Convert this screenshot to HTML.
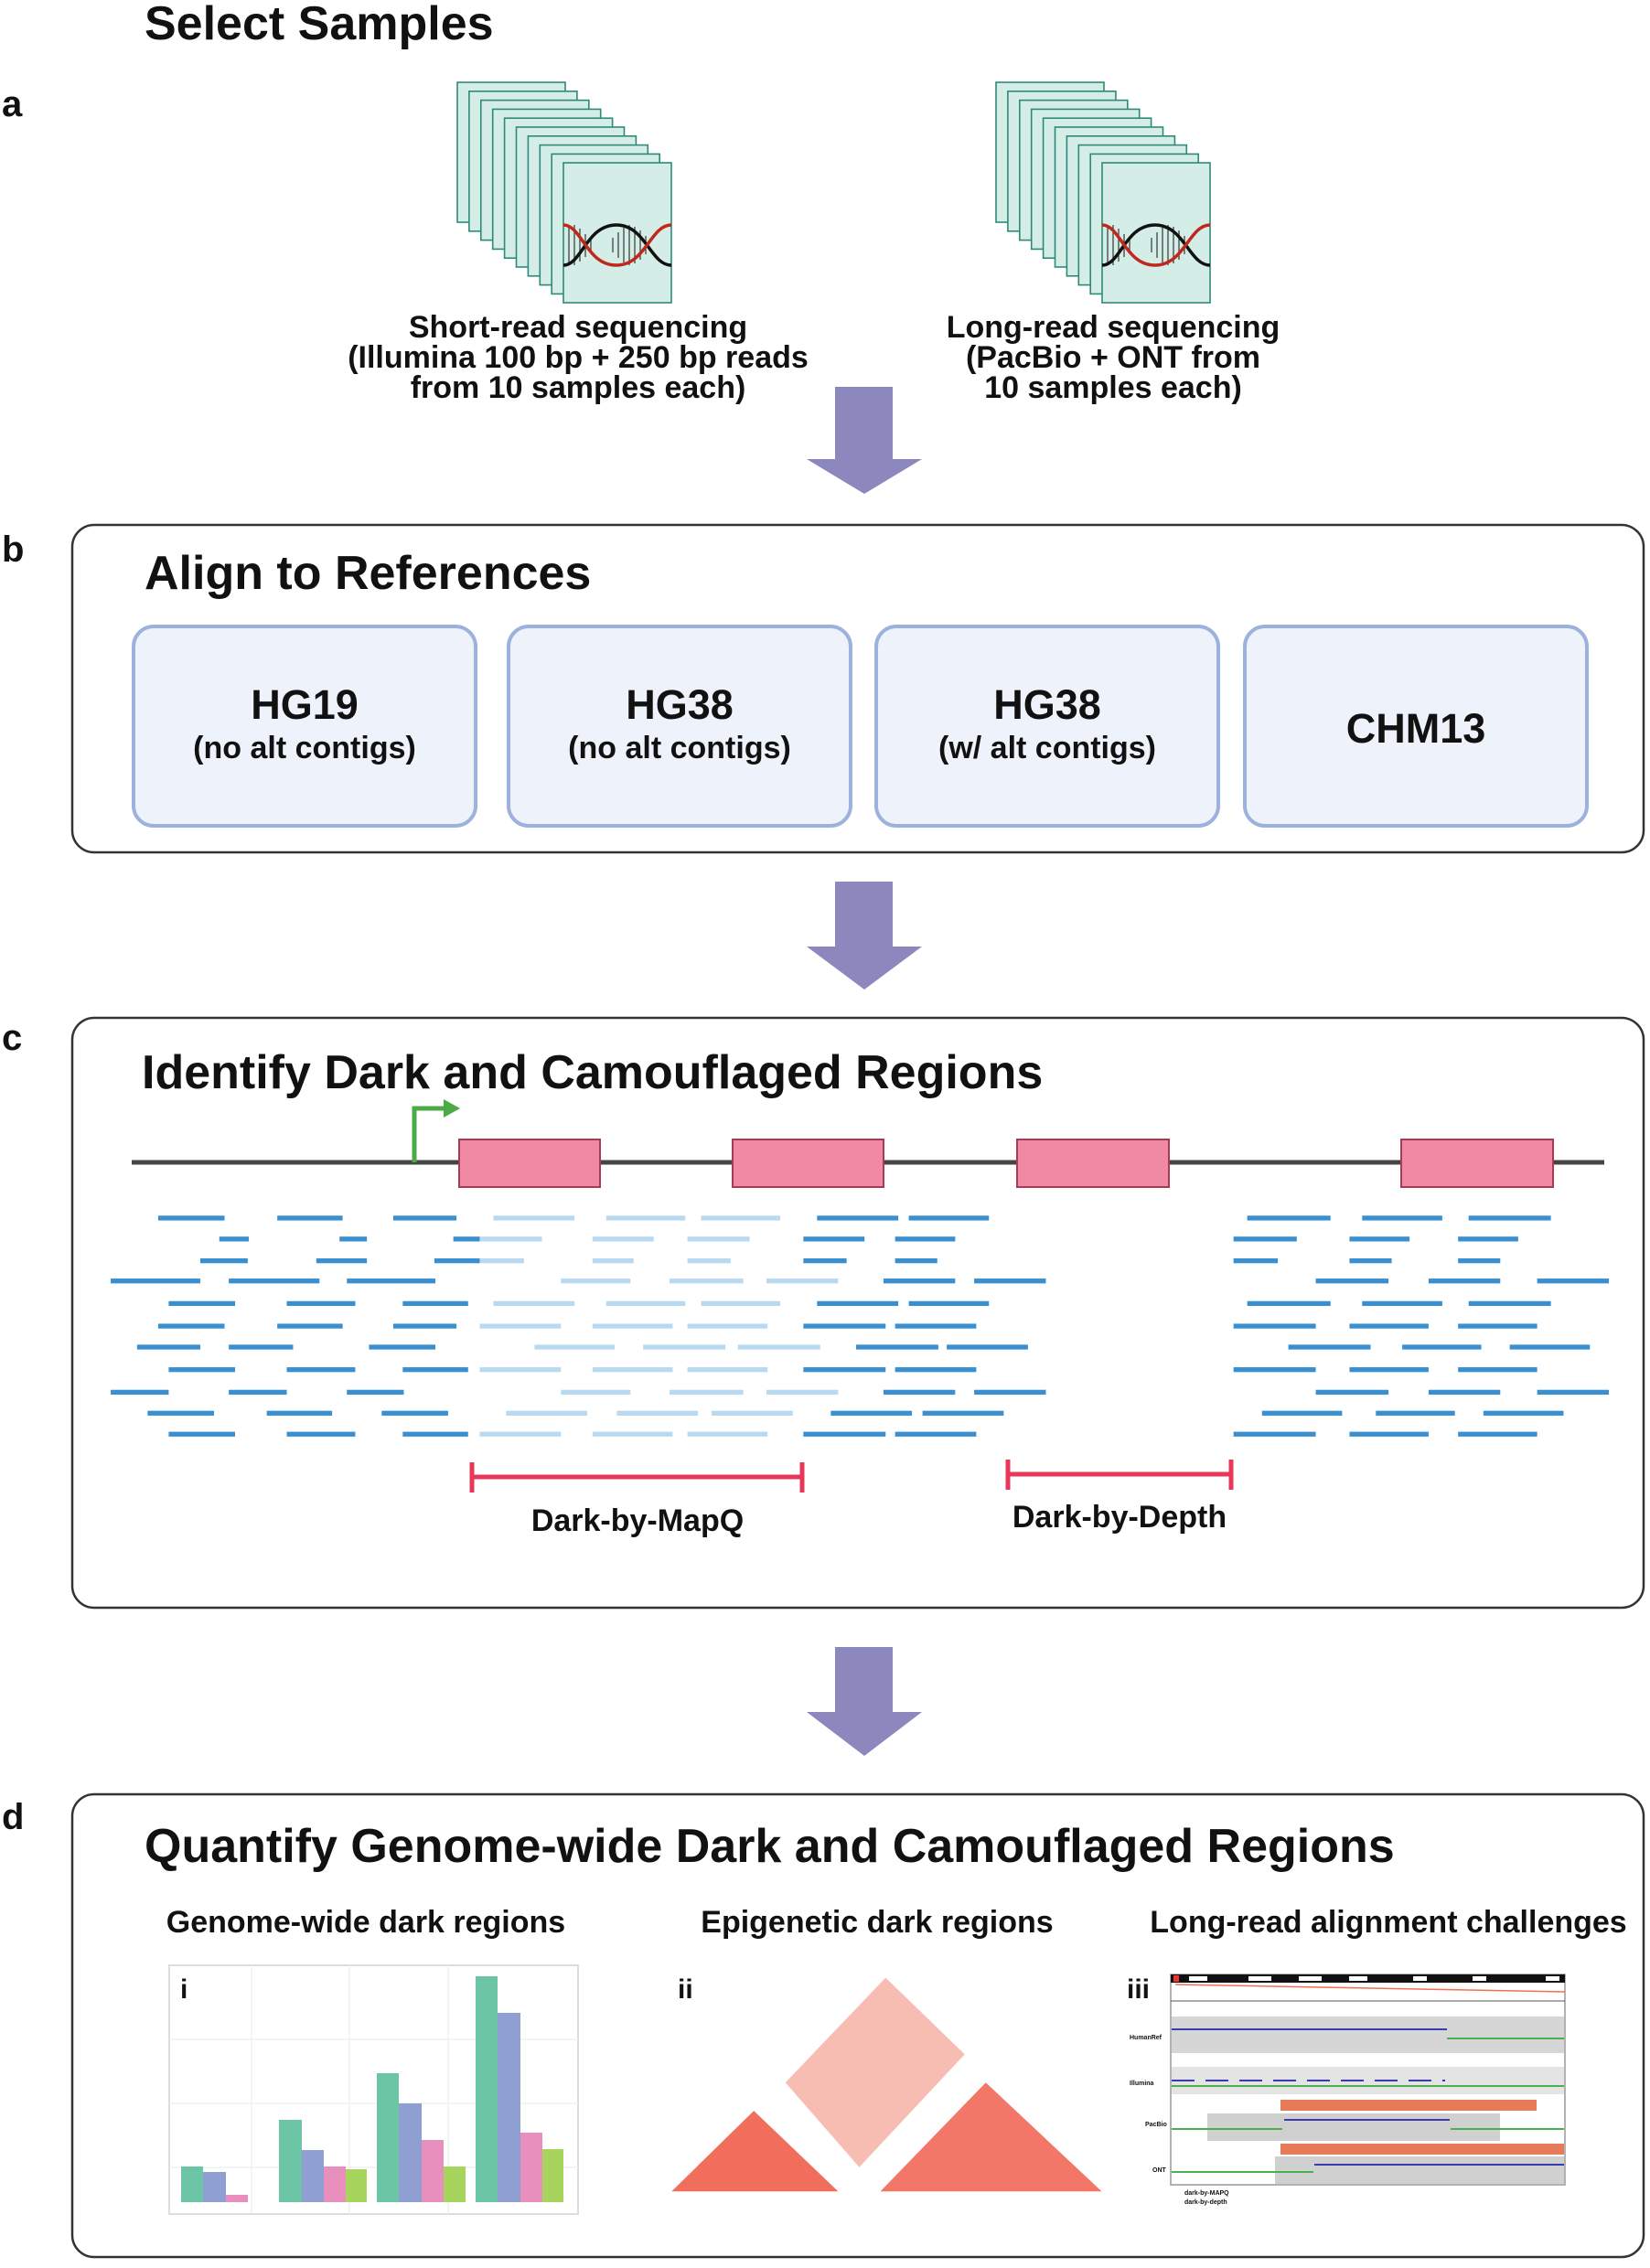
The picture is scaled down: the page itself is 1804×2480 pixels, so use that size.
<!DOCTYPE html>
<html><head><meta charset="utf-8"><style>
html,body{margin:0;padding:0;background:#fff}
svg{display:block}
text{font-family:"Liberation Sans",Arial,sans-serif;font-weight:bold;fill:#111}
.d{fill:#3a8fd0}.l{fill:#b9d9f1}
.card{fill:#d5ede7;stroke:#2e8a78;stroke-width:1.6}
</style></head><body>
<svg width="1804" height="2480" viewBox="0 0 1804 2480" xmlns="http://www.w3.org/2000/svg">
<defs>
<g id="stack">
<rect class="card" x="0" y="0" width="118" height="153"/>
<rect class="card" x="12.9" y="9.8" width="118" height="153"/>
<rect class="card" x="25.8" y="19.6" width="118" height="153"/>
<rect class="card" x="38.7" y="29.4" width="118" height="153"/>
<rect class="card" x="51.6" y="39.2" width="118" height="153"/>
<rect class="card" x="64.5" y="49" width="118" height="153"/>
<rect class="card" x="77.4" y="58.8" width="118" height="153"/>
<rect class="card" x="90.3" y="68.6" width="118" height="153"/>
<rect class="card" x="103.2" y="78.4" width="118" height="153"/>
<rect class="card" x="116" y="88" width="118" height="153"/>
<g transform="translate(116,88)">
<g stroke="#333" stroke-width="1.2">
<line x1="6" y1="70" x2="6" y2="110"/><line x1="12" y1="68" x2="12" y2="112"/><line x1="18" y1="72" x2="18" y2="108"/><line x1="24" y1="78" x2="24" y2="103"/><line x1="30" y1="84" x2="30" y2="96"/>
<line x1="54" y1="82" x2="54" y2="98"/><line x1="60" y1="76" x2="60" y2="104"/><line x1="66" y1="71" x2="66" y2="109"/><line x1="72" y1="68" x2="72" y2="112"/><line x1="78" y1="70" x2="78" y2="110"/><line x1="84" y1="74" x2="84" y2="106"/><line x1="90" y1="80" x2="90" y2="100"/>
</g>
<path d="M0,112 C20,112 25,68 58,68 C90,68 95,112 118,112" fill="none" stroke="#111" stroke-width="3.5"/>
<path d="M0,68 C20,68 25,112 58,112 C90,112 95,68 118,68" fill="none" stroke="#c0271d" stroke-width="3.5"/>
</g>
</g>
</defs>

<!-- Section a -->
<text x="158" y="43" font-size="52">Select Samples</text>
<text x="2" y="127" font-size="40">a</text>
<use href="#stack" x="500" y="90"/>
<use href="#stack" x="1089" y="90"/>
<g font-size="34" text-anchor="middle">
<text x="632" y="369">Short-read sequencing</text>
<text x="632" y="402">(Illumina 100 bp + 250 bp reads</text>
<text x="632" y="435">from 10 samples each)</text>
<text x="1217" y="369">Long-read sequencing</text>
<text x="1217" y="402">(PacBio + ONT from</text>
<text x="1217" y="435">10 samples each)</text>
</g>
<g fill="#8c87bd">
<polygon points="913,423 976,423 976,502 1008,502 945,540 882,502 913,502"/>
<polygon points="913,964 976,964 976,1035 1008,1035 945,1082 882,1035 913,1035"/>
<polygon points="913,1801 976,1801 976,1872 1008,1872 945,1920 882,1872 913,1872"/>
</g>

<!-- Section b -->
<text x="2" y="614" font-size="40">b</text>
<rect x="79" y="574" width="1718" height="358" rx="24" fill="#fff" stroke="#333" stroke-width="2.5"/>
<text x="158" y="644" font-size="52">Align to References</text>
<g fill="#eef3fb" stroke="#9db1dd" stroke-width="4">
<rect x="146" y="685" width="374" height="218" rx="22"/>
<rect x="556" y="685" width="374" height="218" rx="22"/>
<rect x="958" y="685" width="374" height="218" rx="22"/>
<rect x="1361" y="685" width="374" height="218" rx="22"/>
</g>
<g text-anchor="middle">
<text x="333" y="786" font-size="45">HG19</text>
<text x="333" y="829" font-size="34">(no alt contigs)</text>
<text x="743" y="786" font-size="45">HG38</text>
<text x="743" y="829" font-size="34">(no alt contigs)</text>
<text x="1145" y="786" font-size="45">HG38</text>
<text x="1145" y="829" font-size="34">(w/ alt contigs)</text>
<text x="1548" y="812" font-size="45">CHM13</text>
</g>

<!-- Section c -->
<text x="2" y="1148" font-size="40">c</text>
<rect x="79" y="1113" width="1718" height="645" rx="24" fill="#fff" stroke="#333" stroke-width="2.5"/>
<text x="155" y="1190" font-size="52">Identify Dark and Camouflaged Regions</text>
<line x1="144" y1="1271" x2="1754" y2="1271" stroke="#444" stroke-width="5"/>
<polyline points="453,1271 453,1212 488,1212" fill="none" stroke="#4caa45" stroke-width="5"/>
<polygon points="485,1202 503,1212 485,1222" fill="#4caa45"/>
<g fill="#f08aa3" stroke="#a83a55" stroke-width="2">
<rect x="502" y="1246" width="154" height="52"/>
<rect x="801" y="1246" width="165" height="52"/>
<rect x="1112" y="1246" width="166" height="52"/>
<rect x="1532" y="1246" width="166" height="52"/>
</g>
<g transform="matrix(1.1527,0,0,0.8818,0,1100)">
<g transform="translate(0,263)"><rect class="d" x="150" y="-3" width="63" height="6"/><rect class="d" x="263" y="-3" width="62" height="6"/><rect class="d" x="373" y="-3" width="60" height="6"/><rect class="l" x="468" y="-3" width="77" height="6"/><rect class="l" x="575" y="-3" width="75" height="6"/><rect class="l" x="665" y="-3" width="75" height="6"/><rect class="d" x="775" y="-3" width="77" height="6"/><rect class="d" x="862" y="-3" width="76" height="6"/><rect class="d" x="1183" y="-3" width="79" height="6"/><rect class="d" x="1292" y="-3" width="76" height="6"/><rect class="d" x="1393" y="-3" width="78" height="6"/></g>
<g transform="translate(0,289)"><rect class="d" x="208" y="-3" width="28" height="6"/><rect class="d" x="322" y="-3" width="26" height="6"/><rect class="d" x="430" y="-3" width="25" height="6"/><rect class="l" x="455" y="-3" width="59" height="6"/><rect class="l" x="562" y="-3" width="58" height="6"/><rect class="l" x="652" y="-3" width="59" height="6"/><rect class="d" x="762" y="-3" width="58" height="6"/><rect class="d" x="849" y="-3" width="57" height="6"/><rect class="d" x="1170" y="-3" width="60" height="6"/><rect class="d" x="1280" y="-3" width="57" height="6"/><rect class="d" x="1383" y="-3" width="57" height="6"/></g>
<g transform="translate(0,316)"><rect class="d" x="190" y="-3" width="45" height="6"/><rect class="d" x="300" y="-3" width="48" height="6"/><rect class="d" x="412" y="-3" width="43" height="6"/><rect class="l" x="455" y="-3" width="42" height="6"/><rect class="l" x="562" y="-3" width="39" height="6"/><rect class="l" x="652" y="-3" width="41" height="6"/><rect class="d" x="762" y="-3" width="41" height="6"/><rect class="d" x="849" y="-3" width="40" height="6"/><rect class="d" x="1170" y="-3" width="42" height="6"/><rect class="d" x="1280" y="-3" width="40" height="6"/><rect class="d" x="1383" y="-3" width="40" height="6"/></g>
<g transform="translate(0,341)"><rect class="d" x="105" y="-3" width="85" height="6"/><rect class="d" x="217" y="-3" width="86" height="6"/><rect class="d" x="329" y="-3" width="84" height="6"/><rect class="l" x="532" y="-3" width="66" height="6"/><rect class="l" x="635" y="-3" width="70" height="6"/><rect class="l" x="727" y="-3" width="68" height="6"/><rect class="d" x="838" y="-3" width="68" height="6"/><rect class="d" x="924" y="-3" width="68" height="6"/><rect class="d" x="1248" y="-3" width="69" height="6"/><rect class="d" x="1355" y="-3" width="68" height="6"/><rect class="d" x="1458" y="-3" width="68" height="6"/></g>
<g transform="translate(0,369)"><rect class="d" x="160" y="-3" width="63" height="6"/><rect class="d" x="272" y="-3" width="65" height="6"/><rect class="d" x="382" y="-3" width="62" height="6"/><rect class="l" x="468" y="-3" width="77" height="6"/><rect class="l" x="575" y="-3" width="75" height="6"/><rect class="l" x="665" y="-3" width="75" height="6"/><rect class="d" x="775" y="-3" width="77" height="6"/><rect class="d" x="862" y="-3" width="76" height="6"/><rect class="d" x="1183" y="-3" width="79" height="6"/><rect class="d" x="1292" y="-3" width="76" height="6"/><rect class="d" x="1393" y="-3" width="78" height="6"/></g>
<g transform="translate(0,397)"><rect class="d" x="150" y="-3" width="63" height="6"/><rect class="d" x="263" y="-3" width="62" height="6"/><rect class="d" x="373" y="-3" width="60" height="6"/><rect class="l" x="455" y="-3" width="77" height="6"/><rect class="l" x="562" y="-3" width="76" height="6"/><rect class="l" x="652" y="-3" width="76" height="6"/><rect class="d" x="762" y="-3" width="78" height="6"/><rect class="d" x="849" y="-3" width="77" height="6"/><rect class="d" x="1170" y="-3" width="78" height="6"/><rect class="d" x="1280" y="-3" width="75" height="6"/><rect class="d" x="1383" y="-3" width="75" height="6"/></g>
<g transform="translate(0,423)"><rect class="d" x="130" y="-3" width="60" height="6"/><rect class="d" x="217" y="-3" width="61" height="6"/><rect class="d" x="350" y="-3" width="63" height="6"/><rect class="l" x="507" y="-3" width="76" height="6"/><rect class="l" x="610" y="-3" width="78" height="6"/><rect class="l" x="700" y="-3" width="78" height="6"/><rect class="d" x="812" y="-3" width="78" height="6"/><rect class="d" x="898" y="-3" width="77" height="6"/><rect class="d" x="1222" y="-3" width="78" height="6"/><rect class="d" x="1330" y="-3" width="75" height="6"/><rect class="d" x="1432" y="-3" width="76" height="6"/></g>
<g transform="translate(0,451)"><rect class="d" x="160" y="-3" width="63" height="6"/><rect class="d" x="272" y="-3" width="65" height="6"/><rect class="d" x="382" y="-3" width="62" height="6"/><rect class="l" x="455" y="-3" width="77" height="6"/><rect class="l" x="562" y="-3" width="76" height="6"/><rect class="l" x="652" y="-3" width="76" height="6"/><rect class="d" x="762" y="-3" width="78" height="6"/><rect class="d" x="849" y="-3" width="77" height="6"/><rect class="d" x="1170" y="-3" width="78" height="6"/><rect class="d" x="1280" y="-3" width="75" height="6"/><rect class="d" x="1383" y="-3" width="75" height="6"/></g>
<g transform="translate(0,479)"><rect class="d" x="105" y="-3" width="55" height="6"/><rect class="d" x="217" y="-3" width="55" height="6"/><rect class="d" x="329" y="-3" width="54" height="6"/><rect class="l" x="532" y="-3" width="66" height="6"/><rect class="l" x="635" y="-3" width="70" height="6"/><rect class="l" x="727" y="-3" width="68" height="6"/><rect class="d" x="838" y="-3" width="68" height="6"/><rect class="d" x="924" y="-3" width="68" height="6"/><rect class="d" x="1248" y="-3" width="69" height="6"/><rect class="d" x="1355" y="-3" width="68" height="6"/><rect class="d" x="1458" y="-3" width="68" height="6"/></g>
<g transform="translate(0,505)"><rect class="d" x="140" y="-3" width="63" height="6"/><rect class="d" x="253" y="-3" width="62" height="6"/><rect class="d" x="362" y="-3" width="63" height="6"/><rect class="l" x="480" y="-3" width="77" height="6"/><rect class="l" x="585" y="-3" width="77" height="6"/><rect class="l" x="675" y="-3" width="77" height="6"/><rect class="d" x="788" y="-3" width="77" height="6"/><rect class="d" x="875" y="-3" width="77" height="6"/><rect class="d" x="1197" y="-3" width="76" height="6"/><rect class="d" x="1305" y="-3" width="75" height="6"/><rect class="d" x="1407" y="-3" width="76" height="6"/></g>
<g transform="translate(0,531)"><rect class="d" x="160" y="-3" width="63" height="6"/><rect class="d" x="272" y="-3" width="65" height="6"/><rect class="d" x="382" y="-3" width="62" height="6"/><rect class="l" x="455" y="-3" width="77" height="6"/><rect class="l" x="562" y="-3" width="76" height="6"/><rect class="l" x="652" y="-3" width="76" height="6"/><rect class="d" x="762" y="-3" width="78" height="6"/><rect class="d" x="849" y="-3" width="77" height="6"/><rect class="d" x="1170" y="-3" width="78" height="6"/><rect class="d" x="1280" y="-3" width="75" height="6"/><rect class="d" x="1383" y="-3" width="75" height="6"/></g>
</g>
<g stroke="#e8385a" stroke-width="5" fill="none">
<line x1="516" y1="1615" x2="877" y2="1615"/><line x1="516" y1="1599" x2="516" y2="1632"/><line x1="877" y1="1599" x2="877" y2="1632"/>
<line x1="1102" y1="1612" x2="1346" y2="1612"/><line x1="1102" y1="1596" x2="1102" y2="1629"/><line x1="1346" y1="1596" x2="1346" y2="1629"/>
</g>
<g text-anchor="middle" font-size="34">
<text x="697" y="1674">Dark-by-MapQ</text>
<text x="1224" y="1670">Dark-by-Depth</text>
</g>

<!-- Section d -->
<text x="2" y="2000" font-size="40">d</text>
<rect x="79" y="1962" width="1718" height="506" rx="24" fill="#fff" stroke="#333" stroke-width="2.5"/>
<text x="158" y="2036" font-size="52">Quantify Genome-wide Dark and Camouflaged Regions</text>
<g text-anchor="middle" font-size="34">
<text x="400" y="2113">Genome-wide dark regions</text>
<text x="959" y="2113">Epigenetic dark regions</text>
<text x="1518" y="2113">Long-read alignment challenges</text>
</g>
<!-- panel i -->
<rect x="185" y="2149" width="447" height="272" fill="#fff" stroke="#ddd" stroke-width="2"/>
<g stroke="#f0f0f0" stroke-width="1.5">
<line x1="185" y1="2230" x2="632" y2="2230"/><line x1="185" y1="2300" x2="632" y2="2300"/><line x1="185" y1="2370" x2="632" y2="2370"/>
<line x1="275" y1="2149" x2="275" y2="2421"/><line x1="382" y1="2149" x2="382" y2="2421"/><line x1="490" y1="2149" x2="490" y2="2421"/>
</g>
<text x="197" y="2185" font-size="30">i</text>
<g>
<rect x="198" y="2369" width="24" height="39" fill="#6cc6a6"/><rect x="222" y="2375" width="25" height="33" fill="#8f9fd1"/><rect x="247" y="2400" width="24" height="8" fill="#e98fbd"/>
<rect x="305" y="2318" width="25" height="90" fill="#6cc6a6"/><rect x="330" y="2351" width="24" height="57" fill="#8f9fd1"/><rect x="354" y="2369" width="24" height="39" fill="#e98fbd"/><rect x="378" y="2372" width="23" height="36" fill="#a6d45d"/>
<rect x="412" y="2267" width="24" height="141" fill="#6cc6a6"/><rect x="436" y="2300" width="25" height="108" fill="#8f9fd1"/><rect x="461" y="2340" width="24" height="68" fill="#e98fbd"/><rect x="485" y="2369" width="24" height="39" fill="#a6d45d"/>
<rect x="520" y="2161" width="24" height="247" fill="#6cc6a6"/><rect x="544" y="2201" width="25" height="207" fill="#8f9fd1"/><rect x="569" y="2332" width="24" height="76" fill="#e98fbd"/><rect x="593" y="2350" width="23" height="58" fill="#a6d45d"/>
</g>
<!-- panel ii -->
<text x="741" y="2185" font-size="30">ii</text>
<g transform="matrix(1.1527,0,0,0.8818,0,1100)">
<polygon points="637,1470 715,1370 795,1470" fill="#ee4a35" opacity="0.8"/>
<polygon points="835,1470 935,1335 1045,1470" fill="#ee4a35" opacity="0.75"/>
<polygon points="745,1335 840,1205 915,1300 815,1440" fill="#f07a66" opacity="0.5"/>
</g>
<!-- panel iii -->
<text x="1232" y="2185" font-size="30">iii</text>
<rect x="1280" y="2159" width="431" height="230" fill="#fff" stroke="#999" stroke-width="1.5"/>
<rect x="1280" y="2159" width="431" height="9" fill="#111"/>
<g fill="#fff"><rect x="1300" y="2161" width="20" height="5"/><rect x="1365" y="2161" width="25" height="5"/><rect x="1420" y="2161" width="25" height="5"/><rect x="1475" y="2161" width="20" height="5"/><rect x="1545" y="2161" width="15" height="5"/><rect x="1610" y="2161" width="15" height="5"/><rect x="1690" y="2161" width="15" height="5"/></g>
<rect x="1283" y="2160" width="6" height="7" fill="#e33"/>
<polyline points="1285,2170 1711,2178" stroke="#f07050" stroke-width="1.5" fill="none"/>
<line x1="1280" y1="2188" x2="1711" y2="2188" stroke="#555" stroke-width="1"/>
<rect x="1281" y="2205" width="429" height="40" fill="#d6d6d6"/>
<line x1="1281" y1="2219" x2="1582" y2="2219" stroke="#3b3bb0" stroke-width="2"/>
<line x1="1582" y1="2229" x2="1710" y2="2229" stroke="#4caf50" stroke-width="2"/>
<rect x="1281" y="2260" width="429" height="30" fill="#e4e4e4"/>
<line x1="1281" y1="2275" x2="1580" y2="2275" stroke="#3b3bb0" stroke-width="2" stroke-dasharray="25,12"/>
<line x1="1281" y1="2281" x2="1710" y2="2281" stroke="#4caf50" stroke-width="2"/>
<rect x="1400" y="2296" width="280" height="12" fill="#e05a30" opacity="0.8"/>
<rect x="1320" y="2311" width="320" height="30" fill="#d0d0d0"/>
<line x1="1404" y1="2318" x2="1585" y2="2318" stroke="#3b3bb0" stroke-width="2"/>
<line x1="1281" y1="2328" x2="1402" y2="2328" stroke="#4caf50" stroke-width="2"/>
<line x1="1586" y1="2328" x2="1710" y2="2328" stroke="#4caf50" stroke-width="2"/>
<rect x="1400" y="2344" width="310" height="12" fill="#e05a30" opacity="0.8"/>
<rect x="1394" y="2358" width="316" height="30" fill="#d0d0d0"/>
<line x1="1437" y1="2367" x2="1710" y2="2367" stroke="#3b3bb0" stroke-width="2"/>
<line x1="1281" y1="2375" x2="1436" y2="2375" stroke="#4caf50" stroke-width="2"/>
<g font-size="7" font-weight="normal"><text x="1235" y="2230">HumanRef</text><text x="1235" y="2280">Illumina</text><text x="1252" y="2325">PacBio</text><text x="1260" y="2375">ONT</text>
<text x="1295" y="2400" fill="#3b3bb0">dark-by-MAPQ</text><text x="1295" y="2410" fill="#4caf50">dark-by-depth</text></g>
</svg>
</body></html>
